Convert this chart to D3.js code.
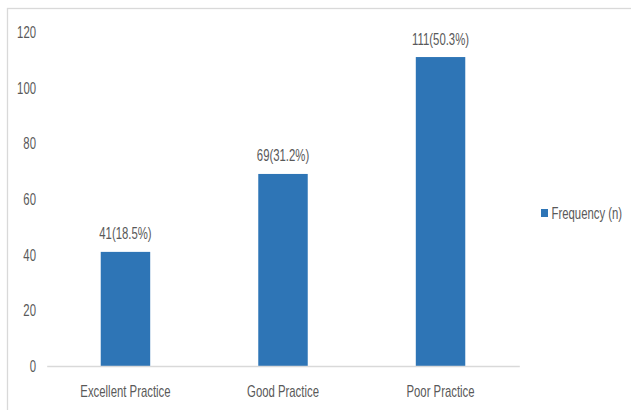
<!DOCTYPE html>
<html>
<head>
<meta charset="utf-8">
<script src="https://cdn.jsdelivr.net/npm/d3@7"></script>
<style>
  body { margin: 0; background: #fff; }
</style>
</head>
<body>
<div id="chart"></div>
<script>
// data
const categories = ['Excellent Practice', 'Good Practice', 'Poor Practice'];
const frequency = [41, 69, 111];
const percents = ['18.5%', '31.2%', '50.3%'];
const yTicks = [0, 20, 40, 60, 80, 100, 120];
const seriesName = 'Frequency (n)';

const W = 631, H = 410;
const margin = { left: 46.7, right: 111.7, top: 32, bottom: 44 };
const barColor = '#2e75b6';
const textColor = '#595959';
const squash = 0.71; // the source font is much narrower than Liberation Sans

const svg = d3.select('#chart').append('svg')
    .attr('width', W)
    .attr('height', H)
    .style('font-family', '"Liberation Sans", Arial, sans-serif');

// chart frame (only top and left edges fall inside the picture)
svg.append('rect')
    .attr('x', 7.5)
    .attr('y', 8.5)
    .attr('width', W + 20)
    .attr('height', H + 20)
    .attr('fill', 'none')
    .attr('stroke', '#d9d9d9')
    .attr('stroke-width', 1.3);

const x = d3.scaleBand()
    .domain(categories)
    .range([margin.left, W - margin.right])
    .paddingInner(0.686)
    .paddingOuter(0.343);

const y = d3.scaleLinear()
    .domain([0, 120])
    .range([H - margin.bottom, margin.top]);

// narrow text helper
function label(g, px, py, txt, anchor) {
    g.append('g')
        .attr('transform', `translate(${px},${py}) scale(${squash},1)`)
        .append('text')
        .attr('text-anchor', anchor)
        .attr('font-size', 16)
        .attr('fill', textColor)
        .text(txt);
}

// y axis labels, no line
const yAxis = d3.axisLeft(y).tickValues(yTicks).tickSize(0).tickPadding(10.7);
const yg = svg.append('g')
    .attr('transform', `translate(${margin.left},0)`)
    .call(yAxis);
yg.select('.domain').remove();
yg.selectAll('.tick text').remove();
yg.selectAll('.tick').each(function (d) {
    label(d3.select(this), -10.7, 5.5, d, 'end');
});

// bars
svg.selectAll('rect.bar')
    .data(frequency)
    .join('rect')
    .attr('class', 'bar')
    .attr('x', (d, i) => x(categories[i]))
    .attr('y', d => y(d))
    .attr('width', x.bandwidth())
    .attr('height', d => y(0) - y(d))
    .attr('fill', barColor);

// x axis
const xAxis = d3.axisBottom(x).tickSize(0).tickPadding(0);
const xg = svg.append('g')
    .attr('transform', `translate(0,${y(0)})`)
    .call(xAxis);
xg.select('.domain')
    .attr('stroke', '#d9d9d9')
    .attr('stroke-width', 1.5);
xg.selectAll('.tick text').remove();
xg.selectAll('.tick').each(function (d) {
    label(d3.select(this), 0, 30.7, d, 'middle');
});

// value labels
frequency.forEach((d, i) => {
    label(svg, x(categories[i]) + x.bandwidth() / 2, y(d) - 12.5,
        `${d}(${percents[i]})`, 'middle');
});

// legend
const lg = svg.append('g');
lg.append('rect')
    .attr('x', 541)
    .attr('y', 209)
    .attr('width', 7)
    .attr('height', 8)
    .attr('fill', barColor);
label(lg, 551.5, 218.5, seriesName, 'start');
</script>
</body>
</html>
